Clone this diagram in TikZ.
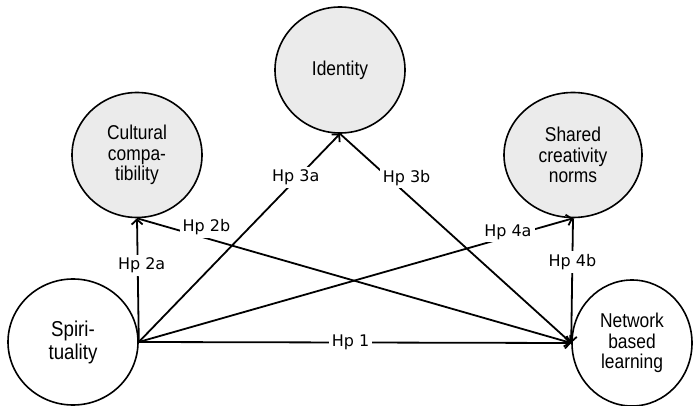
\documentclass[tikz,border=0pt]{standalone}
\usepackage{fontspec}
\setmainfont{Liberation Sans}
\newfontfamily\nodefont[FakeStretch=0.87]{Liberation Sans}
\newfontfamily\hpfont{DejaVu Sans}
\usepackage{tikz}
\usetikzlibrary{arrows.meta,shapes.geometric}
\tikzset{
  var/.style={ellipse,draw,line width=1.6pt,align=center,inner sep=0pt,font=\nodefont\fontsize{20}{20.5}\selectfont},
  med/.style={var,fill=gray!16},
  hp/.style={line width=1.8pt,-{Straight Barb[length=5pt,width=11pt]}},
  hpl/.style={fill=white,inner sep=3pt,font=\hpfont\fontsize{16}{18}\selectfont}
}

\begin{document}
\begin{tikzpicture}[x=1pt,y=-1pt]
\useasboundingbox (0,0) rectangle (693,406);
\node[var,minimum width=130pt,minimum height=126pt,font=\nodefont\fontsize{21.5}{23}\selectfont] (spir) at (73,342) {Spiri-\\tuality};
\node[var,minimum width=120pt,minimum height=126pt] (nbl) at (632,343) {Network\\based\\learning};
\node[med,minimum width=130pt,minimum height=125pt] (cult) at (137,155) {Cultural\\compa-\\tibility};
\node[med,minimum width=130pt,minimum height=126pt] (iden) at (340,70) {Identity};
\node[med,minimum width=138pt,minimum height=125pt] (norm) at (573,155) {Shared\\creativity\\norms};
\draw[hp] (spir.east) -- node[hpl,pos=.49] {Hp 1} (nbl.west);
\draw[hp] (spir.east) -- node[hpl,pos=.62,xshift=4pt] {Hp 2a} (cult.south);
\draw[hp] (spir.east) -- node[hpl,pos=.79,xshift=-2pt] {Hp 3a} (iden.south);
\draw[hp] (spir.east) -- node[hpl,pos=.85,yshift=5pt] {Hp 4a} (norm.south);
\draw[hp] (cult.south) -- node[hpl,pos=.16,yshift=11pt] {Hp 2b} (nbl.west);
\draw[hp] (iden.south) -- node[hpl,pos=.21,xshift=18pt] {Hp 3b} (nbl.west);
\draw[hp] (norm.south) -- node[hpl,pos=.35] {Hp 4b} (nbl.west);
\end{tikzpicture}
\end{document}
